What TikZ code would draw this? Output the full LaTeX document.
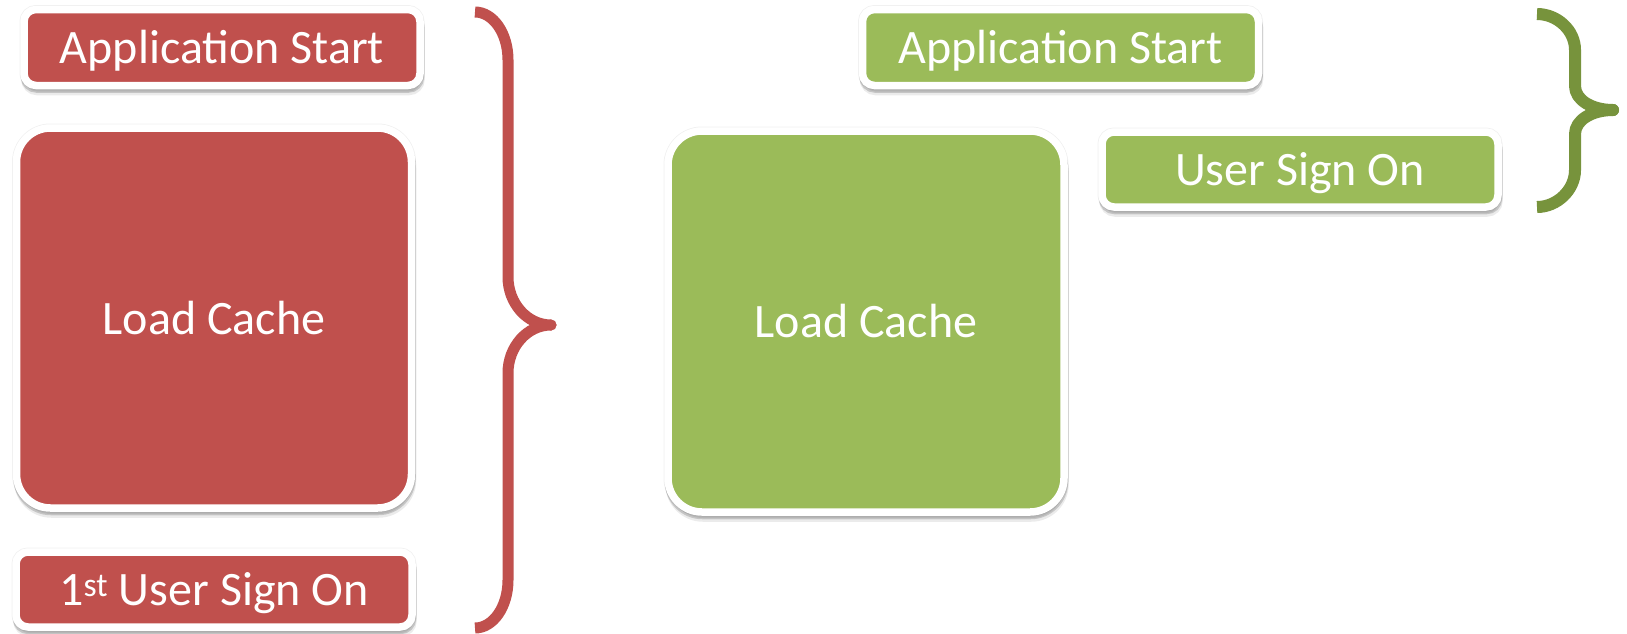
\documentclass[tikz,border=0pt]{standalone}
\usepackage{fontspec}
\setmainfont{Carlito}
\definecolor{boxred}{HTML}{C0504D}
\definecolor{boxgreen}{HTML}{9BBB59}
\definecolor{bracegreen}{HTML}{77933C}
\begin{document}
\begin{tikzpicture}[x=1pt,y=-1pt,
  stepbox/.style={draw=white, line width=7.5pt, text=white, inner sep=0pt,
    font=\fontsize{48}{57}\selectfont, text height=34pt, text depth=2pt,
    preaction={draw=black, fill=black, opacity=0.06, line width=9pt},
    preaction={draw=black, fill=black, opacity=0.08, line width=7.5pt,
      transform canvas={xshift=1pt, yshift=-6pt}},
    preaction={draw=black, fill=black, opacity=0.16, line width=7.5pt,
      transform canvas={xshift=0.5pt, yshift=-3.5pt}}},
  smallbox/.style={stepbox, rectangle, rounded corners=12pt, minimum width=396pt, minimum height=76pt},
  bigbox/.style={stepbox, rectangle, rounded corners=34pt, minimum width=395pt, minimum height=380pt},
  bracepath/.style={line width=11pt, line join=round}
]
\useasboundingbox (0,0) rectangle (1627,633);
\fill[white] (0,0) rectangle (1627,633);

% left (red) column
\node[smallbox, fill=boxred] (rs) at (222,47.5) {Application Start};
\node[bigbox, fill=boxred] (rl) at (214,318) {Load Cache};
\node[smallbox, fill=boxred, minimum height=75pt] (ru) at (214,589.5) {1\textsuperscript{st} User Sign On};

% right (green) column
\node[smallbox, fill=boxgreen] (gs) at (1060.5,47.5) {Application Start};
\node[bigbox, fill=boxgreen, minimum width=396pt, minimum height=381pt] (gl) at (866,321.5) {Load Cache};
\node[smallbox, fill=boxgreen, minimum height=75pt] (gu) at (1300,169.5) {User Sign On};

% red brace
\draw[bracepath, draw=boxred]
  (475,12) .. controls (493,12) and (508,33) .. (508,60)
  -- (508,277) .. controls (508,303) and (527,325) .. (551,325)
  .. controls (527,325) and (508,347) .. (508,373)
  -- (508,580) .. controls (508,607) and (493,628) .. (475,628);
\fill[boxred] (551,325) circle (5.5pt);

% green brace
\draw[bracepath, draw=bracegreen, line width=12pt]
  (1537,14) .. controls (1557,14) and (1575,30) .. (1575,50)
  -- (1575,86) .. controls (1575,100) and (1592,110) .. (1613,110)
  .. controls (1592,110) and (1575,120) .. (1575,134)
  -- (1575,170) .. controls (1575,190) and (1557,207) .. (1537,207);
\fill[bracegreen] (1613,110) circle (6pt);
\end{tikzpicture}
\end{document}
